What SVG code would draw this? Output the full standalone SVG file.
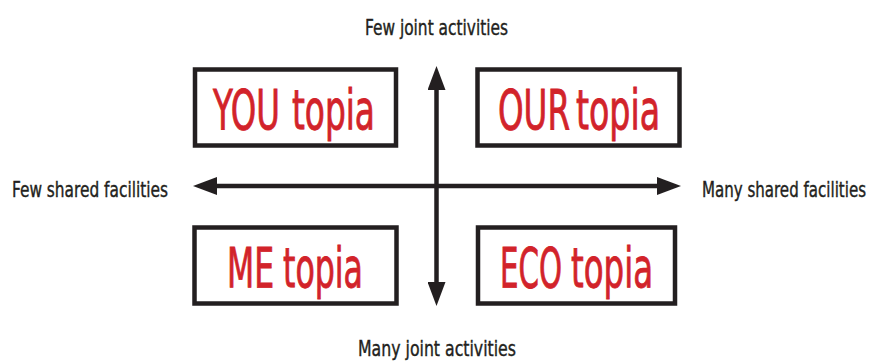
<svg xmlns="http://www.w3.org/2000/svg" width="871" height="362" viewBox="0 0 871 362">
<style>
.box{fill:#fff;stroke:#231f20;stroke-width:4.5}
.red{fill:#d2232a;stroke:#d2232a;stroke-width:0.9;font-family:"DejaVu Sans Condensed","Liberation Sans",sans-serif;font-size:56px}
.lbl{fill:#231f20;stroke:#231f20;stroke-width:0.4;font-family:"DejaVu Sans Condensed","Liberation Sans",sans-serif;font-size:22px}
.ax{stroke:#231f20;stroke-width:4.5;fill:none;marker-start:url(#ah);marker-end:url(#ah)}
</style>
<defs>
<marker id="ah" markerUnits="userSpaceOnUse" markerWidth="24" markerHeight="18" refX="0" refY="9" orient="auto-start-reverse" viewBox="0 0 24 18">
<path d="M0,0 L24,9 L0,18 z" fill="#231f20"/>
</marker>
</defs>
<rect width="871" height="362" fill="#fff"/>
<g id="connectors">
<line class="ax" x1="436.5" y1="90" x2="436.5" y2="282"/>
<line class="ax" x1="217" y1="186" x2="657" y2="186"/>
</g>
<g id="youtopia">
<rect class="box" x="195" y="69.5" width="201" height="76"/>
<text class="red" transform="translate(213,129) scale(0.63,1)" textLength="106.3" lengthAdjust="spacingAndGlyphs">YOU</text>
<text class="red" transform="translate(292,129) scale(0.63,1)" textLength="131.7" lengthAdjust="spacingAndGlyphs">topia</text>
</g>
<g id="ourtopia">
<rect class="box" x="477.5" y="69.5" width="202" height="76"/>
<text class="red" transform="translate(498,129) scale(0.63,1)" textLength="114.3" lengthAdjust="spacingAndGlyphs">OUR</text>
<text class="red" transform="translate(576,129) scale(0.63,1)" textLength="133.3" lengthAdjust="spacingAndGlyphs">topia</text>
</g>
<g id="metopia">
<rect class="box" x="194.5" y="227.5" width="202" height="76"/>
<text class="red" transform="translate(227,287) scale(0.63,1)" textLength="74.6" lengthAdjust="spacingAndGlyphs">ME</text>
<text class="red" transform="translate(283,287) scale(0.63,1)" textLength="127" lengthAdjust="spacingAndGlyphs">topia</text>
</g>
<g id="ecotopia">
<rect class="box" x="478" y="227.5" width="197" height="76"/>
<text class="red" transform="translate(500,287) scale(0.63,1)" textLength="98.4" lengthAdjust="spacingAndGlyphs">ECO</text>
<text class="red" transform="translate(571,287) scale(0.63,1)" textLength="130.2" lengthAdjust="spacingAndGlyphs">topia</text>
</g>
<g id="labels">
<text class="lbl" transform="translate(365,35) scale(0.77,1)" textLength="185.7" lengthAdjust="spacingAndGlyphs">Few joint activities</text>
<text class="lbl" transform="translate(358,356) scale(0.77,1)" textLength="205.2" lengthAdjust="spacingAndGlyphs">Many joint activities</text>
<text class="lbl" transform="translate(12,197) scale(0.77,1)" textLength="202.6" lengthAdjust="spacingAndGlyphs">Few shared facilities</text>
<text class="lbl" transform="translate(702,197) scale(0.77,1)" textLength="213" lengthAdjust="spacingAndGlyphs">Many shared facilities</text>
</g>
</svg>
